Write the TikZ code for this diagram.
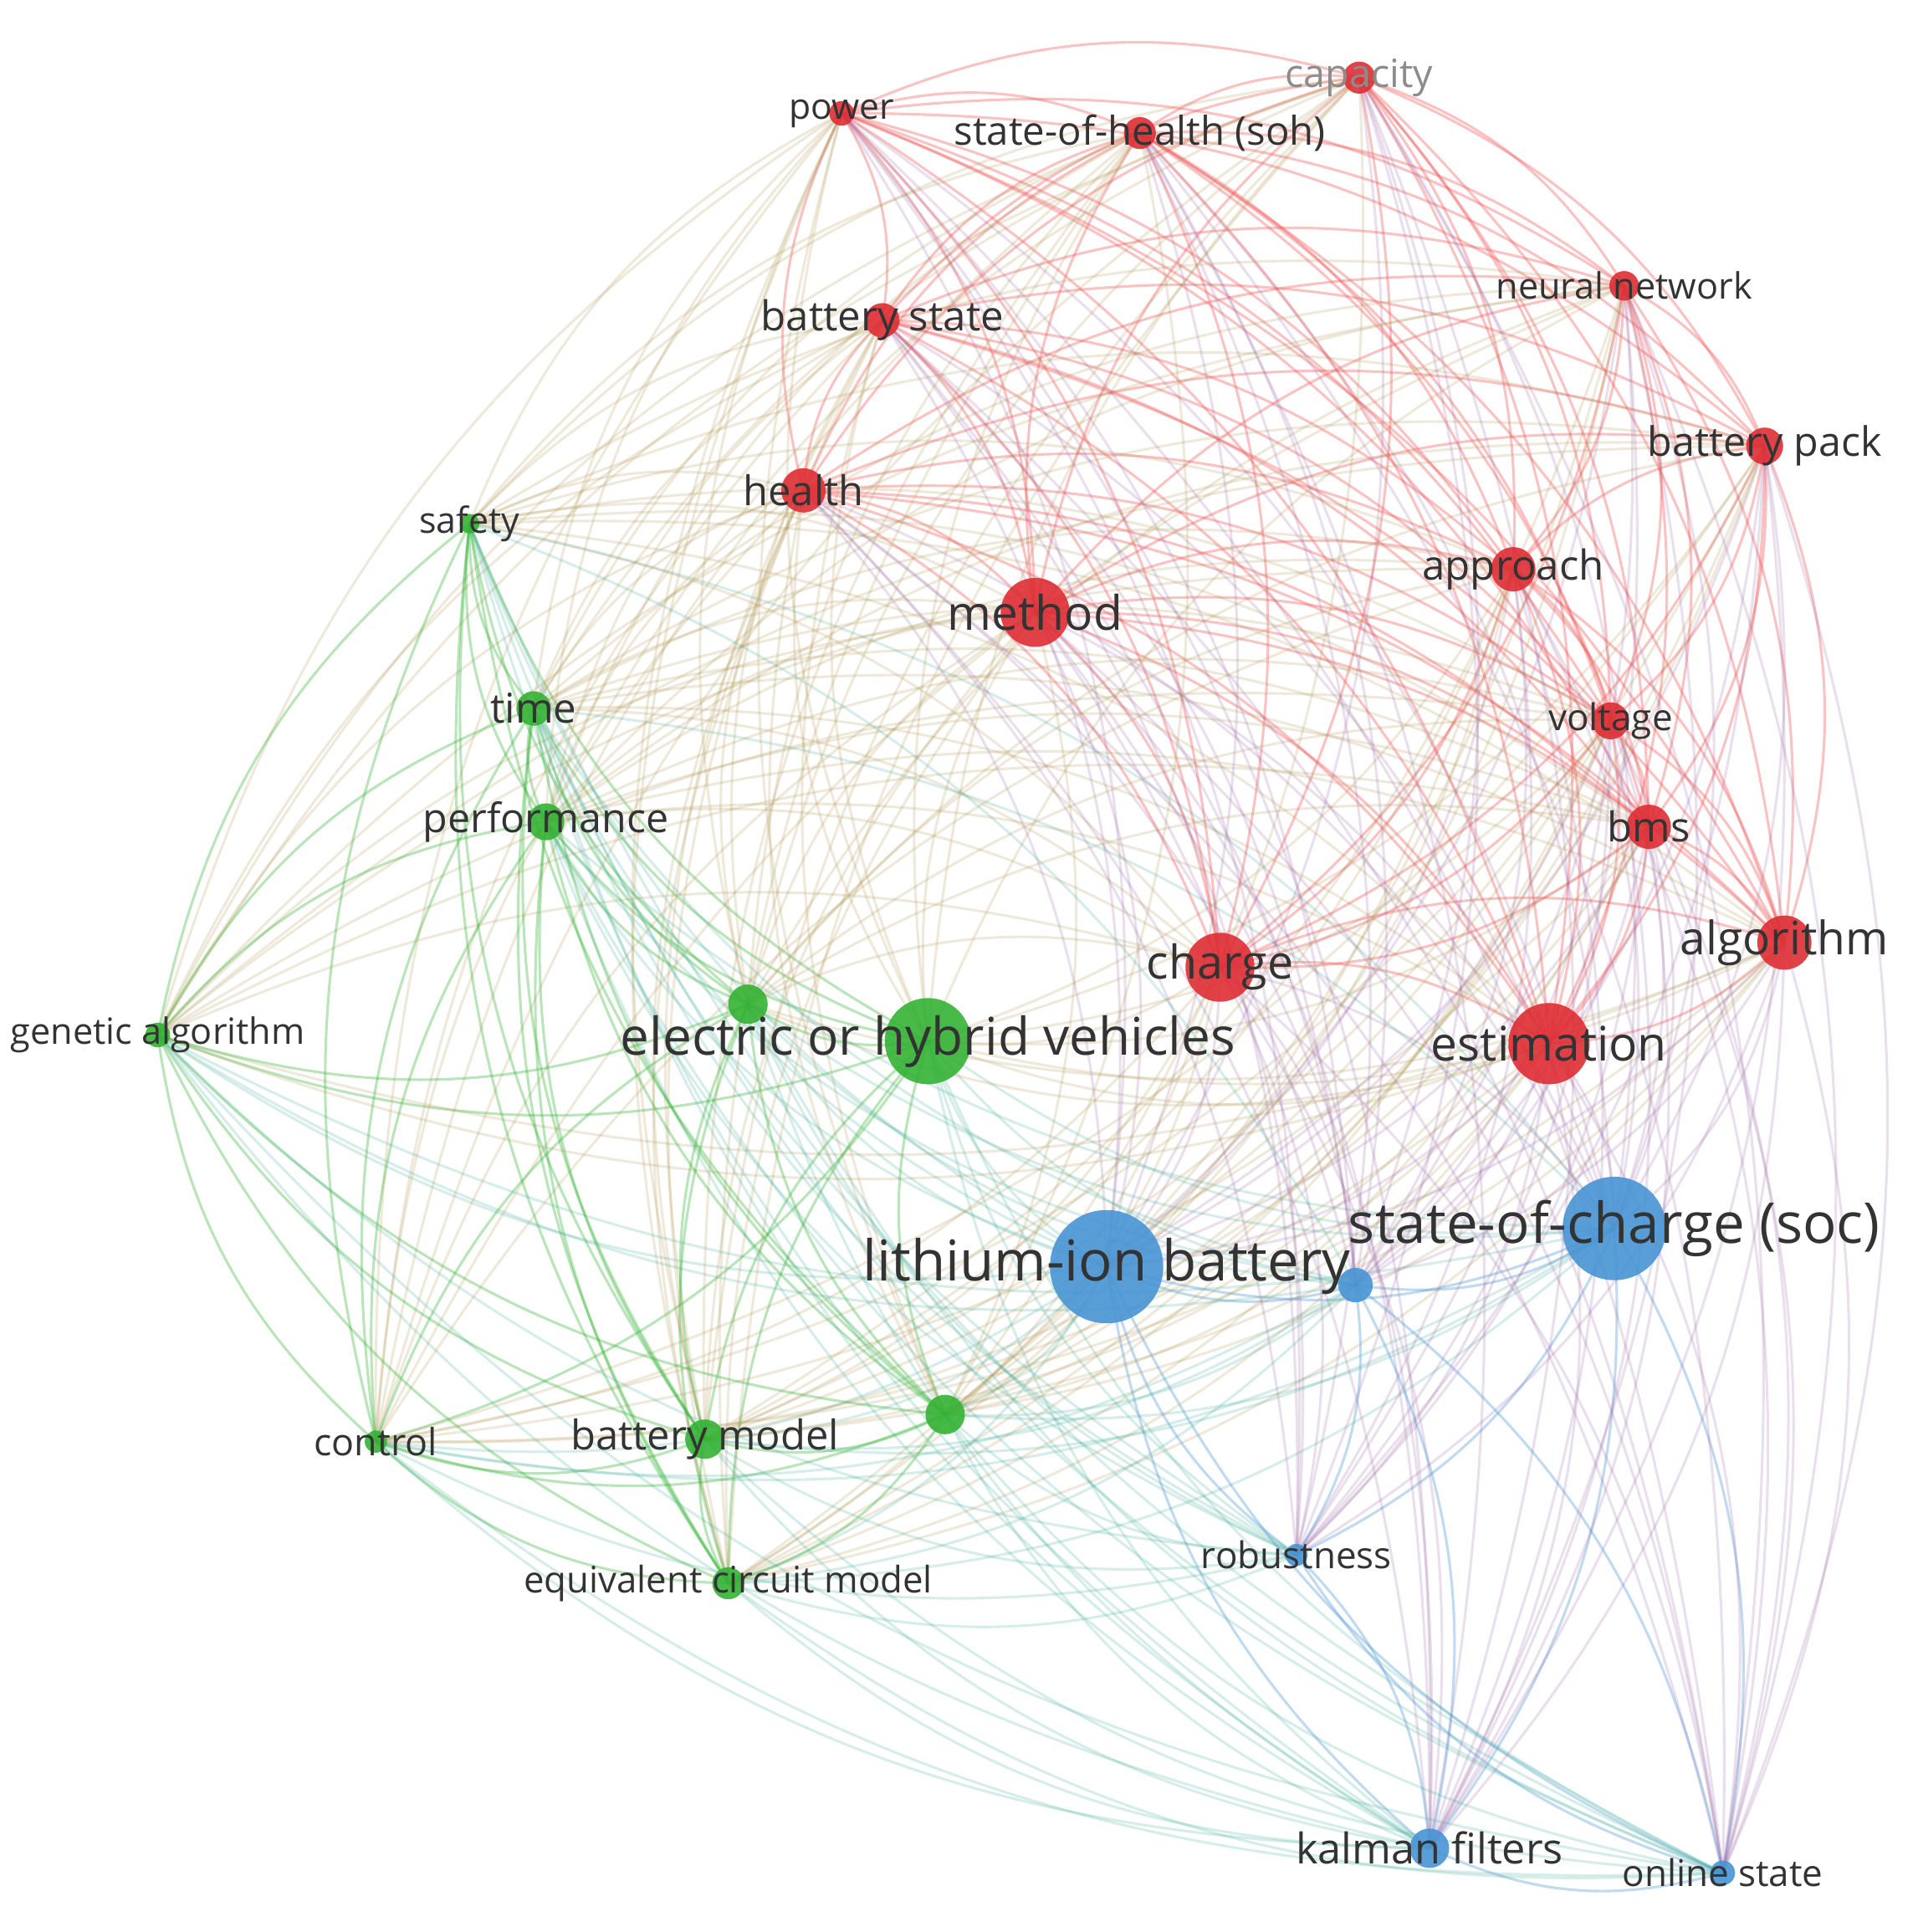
\documentclass[tikz,border=0pt]{standalone}
\usepackage{fontspec}
\setmainfont{Open Sans}
\usetikzlibrary{calc}
\definecolor{vred}{RGB}{222,45,52}
\definecolor{vgreen}{RGB}{52,178,52}
\definecolor{vblue}{RGB}{72,148,212}
\definecolor{c11}{RGB}{238,80,80}
\colorlet{c22}{vgreen}
\colorlet{c33}{vblue}
\definecolor{c12}{RGB}{175,150,85}
\definecolor{c21}{RGB}{175,150,85}
\definecolor{c13}{RGB}{155,105,165}
\definecolor{c31}{RGB}{155,105,165}
\definecolor{c23}{RGB}{60,170,150}
\definecolor{c32}{RGB}{60,170,150}
\colorlet{labgray}{black!80}
\tikzset{
  edge/.style={line width=1.2pt},
  dot/.style={circle, inner sep=0pt, opacity=0.9},
  lab/.style={text=labgray, inner sep=0pt}
}
\def\clus{{0,3,3,2,1,1,1,1,1,1,1,1,1,1,1,1,1,1,2,2,2,2,2,2,2,2,2,3,3,3,3}}
\begin{document}
\begin{tikzpicture}[x=0.02cm,y=-0.02cm]
\useasboundingbox (0,0) rectangle (1556,1568);
\coordinate (ctr) at (800,800);
\foreach \i/\x/\y in {1/1310/997, 2/898/1028, 3/753/845, 4/1257/847, 5/840/497,
  6/990/785, 7/1448/765, 8/1338/671, 9/652/398, 10/1228/462, 11/1307/585,
  12/1432/362, 13/716/260, 14/925/108, 15/1103/63, 16/1318/232, 17/683/92,
  18/443/667, 19/433/575, 20/381/425, 21/128/840, 22/305/1170, 23/572/1168,
  24/591/1285, 25/607/815, 26/767/1148, 27/1100/1043, 28/1052/1262,
  29/1160/1500, 30/1398/1520}
  {\coordinate (n\i) at (\x,\y);}
% edges
\foreach \i in {1,...,29}{
  \pgfmathtruncatemacro\js{\i+1}
  \foreach \j in {\js,...,30}{
    \pgfmathtruncatemacro\ci{\clus[\i]}
    \pgfmathtruncatemacro\cj{\clus[\j]}
    \ifnum\ci=\cj \def\eo{0.34}\else \def\eo{0.21}\fi
    \draw[edge,draw=c\ci\cj,draw opacity=\eo] let \p1=(n\i), \p2=(n\j), \p3=(ctr),
      \n1={20*sign((\x2-\x1)/100*((\y1+\y2)/200-\y3/100)-(\y2-\y1)/100*((\x1+\x2)/200-\x3/100))},
      \n2={180-\n1} in (n\i) to[out=\n1,in=\n2,relative] (n\j);
  }
}
% circles
\foreach \i/\r/\c in {1/42/vblue, 2/46/vblue, 3/35/vgreen, 4/33/vred, 5/28/vred,
  6/28/vred, 7/22/vred, 8/18/vred, 9/18/vred, 10/18/vred, 11/15/vred,
  12/15/vred, 13/14/vred, 14/13/vred, 15/13/vred, 16/12/vred, 17/10/vred,
  18/15/vgreen, 19/14/vgreen, 20/8/vgreen, 21/10/vgreen, 22/9/vgreen,
  23/16/vgreen, 24/13/vgreen, 25/16/vgreen, 26/16/vgreen, 27/14/vblue,
  28/9/vblue, 29/16/vblue, 30/10/vblue}
  {\node[dot, fill=\c, minimum size=\r*0.04cm] (v\i) at (n\i) {};}
% labels
\foreach \i/\fs/\t in {1/26/state-of-charge (soc), 2/26/lithium-ion battery,
  3/24/electric or hybrid vehicles, 4/22/estimation, 5/22/method, 6/21.5/charge,
  7/21.3/algorithm, 8/18.9/bms, 9/18.9/health, 10/19/approach, 11/17/voltage,
  12/18.7/battery pack, 13/19/battery state, 14/18.3/state-of-health (soh),
  16/16.7/neural network, 17/16.5/power, 18/18.7/performance, 19/19/time,
  20/16.6/safety, 21/16.7/genetic algorithm, 22/17.3/control,
  23/18.9/battery model, 24/16.9/equivalent circuit model, 28/17/robustness,
  29/19.5/kalman filters, 30/17/online state}
  {\node[lab, font=\fontsize{\fs}{\fs}\selectfont] (l\i) at (n\i) {\t};}
\node[lab, text=black!45, font=\fontsize{18}{18}\selectfont] (l15) at (n15) {capacity};
\end{tikzpicture}
\end{document}
